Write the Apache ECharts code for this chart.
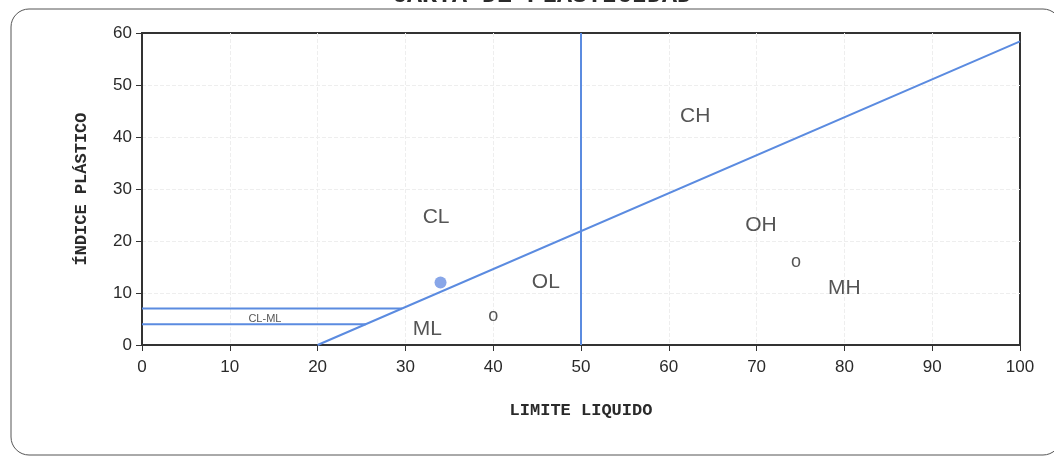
<!DOCTYPE html>
<html>
<head>
<meta charset="utf-8">
<script src="https://cdn.jsdelivr.net/npm/echarts@6/dist/echarts.min.js"></script>
<style>
  html, body { margin: 0; padding: 0; background: #fff; }
  #chart { width: 1054px; height: 462px; }
</style>
</head>
<body>
<div id="chart"></div>
<script>
// limites de la carta de plasticidad (LL, IP)
const lineaA = [[20, 0], [100, 58.4]];
const lineaB = [[50, 0], [50, 60]];
const limite7 = [[0, 7], [29.6, 7]];
const limite4 = [[0, 4], [25.5, 4]];
// muestra ensayada
const muestra = [[34, 12]];
// rotulos de zonas
const zonas = [
  ['CL', 33.5, 24.5], ['CH', 63, 44], ['OH', 70.5, 23], ['MH', 80, 11],
  ['OL', 46, 12], ['ML', 32.5, 3]
];
const rotulosO = [['o', 40, 5.5], ['o', 74.5, 16]];
const rotuloCLML = [['CL-ML', 14, 5.1]];

const azul = '#5b8be0';
const chart = echarts.init(document.getElementById('chart'));

function lineSeries(data) {
  return {
    type: 'line',
    data: data,
    symbol: 'none',
    silent: true,
    lineStyle: { color: azul, width: 2 }
  };
}

function textSeries(items, size) {
  return {
    type: 'scatter',
    symbolSize: 0,
    silent: true,
    data: items.map(v => ({ name: v[0], value: [v[1], v[2]] })),
    label: {
      show: true,
      position: 'inside',
      formatter: '{b}',
      color: '#2a2a2a',
      fontFamily: 'Liberation Sans, Arial',
      fontSize: size
    }
  };
}

const nombreEje = {
  color: '#2a2a2a',
  fontFamily: 'Liberation Mono, monospace',
  fontWeight: 'bold',
  fontSize: 17
};

chart.setOption({
  animation: false,
  graphic: [
    {
      type: 'rect',
      shape: { x: 11, y: 9, width: 1050, height: 446, r: 18 },
      style: { fill: 'none', stroke: '#555', lineWidth: 1 }
    },
    {
      type: 'text',
      left: 392,
      top: -17,
      style: {
        text: 'CARTA DE PLASTICIDAD',
        fill: '#2a2a2a',
        font: 'bold 25px "Liberation Mono", monospace'
      }
    }
  ],
  grid: {
    left: 142,
    right: 34,
    top: 33,
    bottom: 117,
    show: true,
    borderColor: '#333',
    borderWidth: 2
  },
  xAxis: {
    type: 'value',
    min: 0,
    max: 100,
    interval: 10,
    name: 'LIMITE LIQUIDO',
    nameLocation: 'middle',
    nameGap: 57,
    nameTextStyle: nombreEje,
    axisLine: { lineStyle: { color: '#333', width: 2 } },
    axisTick: { show: true, length: 6, lineStyle: { color: '#333' } },
    axisLabel: { color: '#2a2a2a', fontSize: 17, margin: 14, fontFamily: 'Liberation Sans, Arial' },
    splitLine: { showMinLine: false, showMaxLine: false, lineStyle: { color: '#eee', type: 'dashed' } }
  },
  yAxis: {
    type: 'value',
    min: 0,
    max: 60,
    interval: 10,
    name: 'ÍNDICE PLÁSTICO',
    nameLocation: 'middle',
    nameGap: 52,
    nameTextStyle: nombreEje,
    axisLine: { show: true, lineStyle: { color: '#333', width: 2 } },
    axisTick: { show: true, length: 6, lineStyle: { color: '#333' } },
    axisLabel: { color: '#2a2a2a', fontSize: 17, margin: 10, fontFamily: 'Liberation Sans, Arial' },
    splitLine: { showMinLine: false, showMaxLine: false, lineStyle: { color: '#eee', type: 'dashed' } }
  },
  series: [
    lineSeries(lineaA),
    lineSeries(lineaB),
    lineSeries(limite7),
    lineSeries(limite4),
    {
      type: 'scatter',
      data: muestra,
      symbolSize: 12,
      itemStyle: { color: '#6a90e2' }
    },
    textSeries(zonas, 21),
    textSeries(rotulosO, 18),
    textSeries(rotuloCLML, 11)
  ]
});
</script>
</body>
</html>
